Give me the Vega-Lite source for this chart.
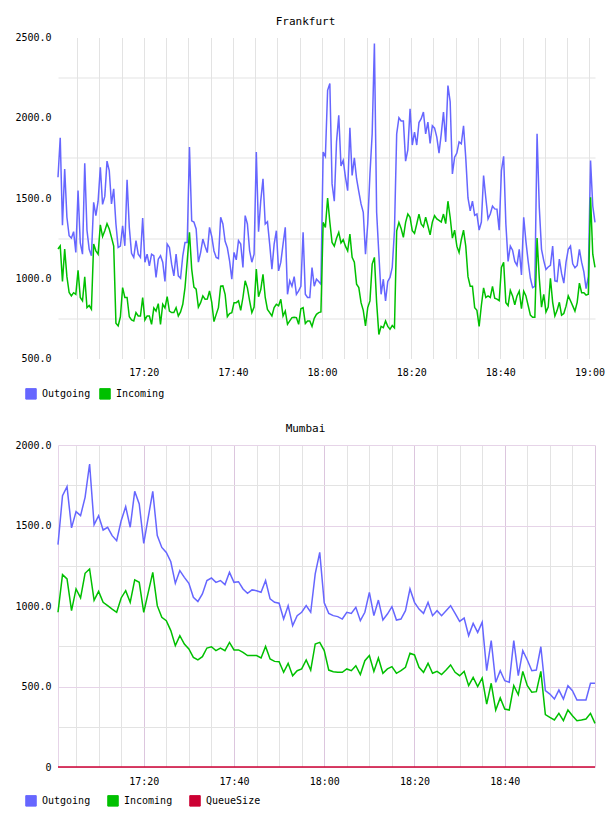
{
  "$schema": "https://vega.github.io/schema/vega-lite/v6.json",
  "background": "white",
  "padding": {"left": 14, "top": 15.5, "right": 4, "bottom": 4},
  "spacing": 21.5,
  "config": {
    "view": {"stroke": null},
    "font": "DejaVu Sans Mono",
    "title": {"font": "DejaVu Sans Mono", "fontSize": 11, "fontWeight": "normal", "color": "#000000", "anchor": "middle", "frame": "group", "dx": -21, "offset": 6},
    "axis": {"labelFont": "DejaVu Sans Mono", "labelFontSize": 10, "labelColor": "#000000", "ticks": false, "tickSize": 0, "domain": false, "labelOverlap": false, "labelFlush": false, "gridColor": "#e3e3e3", "gridWidth": 1},
    "axisX": {"labelPadding": 9},
    "axisY": {"labelPadding": 7},
    "legend": {"labelFont": "DejaVu Sans Mono", "labelFontSize": 10, "labelColor": "#000000"}
  },
  "resolve": {"scale": {"fill": "independent", "stroke": "independent"}},
  "vconcat": [
    {
      "title": {"text": "Frankfurt"},
      "width": 537,
      "height": 321,
      "data": {
        "format": {"parse": {"t": "date:'%H:%M:%S'"}},
        "values": [
          {"t":"17:00:45","Outgoing":1629,"Incoming":1182},
          {"t":"17:01:15","Outgoing":1875,"Incoming":1202},
          {"t":"17:01:45","Outgoing":1330,"Incoming":980},
          {"t":"17:02:15","Outgoing":1681,"Incoming":1182},
          {"t":"17:02:45","Outgoing":1380,"Incoming":1010},
          {"t":"17:03:15","Outgoing":1265,"Incoming":911},
          {"t":"17:03:45","Outgoing":1250,"Incoming":890},
          {"t":"17:04:15","Outgoing":1290,"Incoming":910},
          {"t":"17:04:45","Outgoing":1161,"Incoming":900},
          {"t":"17:05:15","Outgoing":1546,"Incoming":1050},
          {"t":"17:05:45","Outgoing":1220,"Incoming":880},
          {"t":"17:06:15","Outgoing":1150,"Incoming":859},
          {"t":"17:06:45","Outgoing":1717,"Incoming":1009},
          {"t":"17:07:15","Outgoing":1300,"Incoming":817},
          {"t":"17:07:45","Outgoing":1180,"Incoming":830},
          {"t":"17:08:15","Outgoing":1140,"Incoming":807},
          {"t":"17:08:45","Outgoing":1473,"Incoming":1213},
          {"t":"17:09:15","Outgoing":1390,"Incoming":1171},
          {"t":"17:09:45","Outgoing":1480,"Incoming":1150},
          {"t":"17:10:15","Outgoing":1692,"Incoming":1333},
          {"t":"17:10:45","Outgoing":1460,"Incoming":1260},
          {"t":"17:11:15","Outgoing":1510,"Incoming":1296},
          {"t":"17:11:45","Outgoing":1730,"Incoming":1340},
          {"t":"17:12:15","Outgoing":1671,"Incoming":1307},
          {"t":"17:12:45","Outgoing":1463,"Incoming":1255},
          {"t":"17:13:15","Outgoing":1557,"Incoming":1200},
          {"t":"17:13:45","Outgoing":1338,"Incoming":720},
          {"t":"17:14:15","Outgoing":1192,"Incoming":703},
          {"t":"17:14:45","Outgoing":1200,"Incoming":760},
          {"t":"17:15:15","Outgoing":1327,"Incoming":942},
          {"t":"17:15:45","Outgoing":1202,"Incoming":880},
          {"t":"17:16:15","Outgoing":1613,"Incoming":880},
          {"t":"17:16:45","Outgoing":1317,"Incoming":760},
          {"t":"17:17:15","Outgoing":1155,"Incoming":740},
          {"t":"17:17:45","Outgoing":1130,"Incoming":734},
          {"t":"17:18:15","Outgoing":1234,"Incoming":786},
          {"t":"17:18:45","Outgoing":1150,"Incoming":765},
          {"t":"17:19:15","Outgoing":1130,"Incoming":765},
          {"t":"17:19:45","Outgoing":1375,"Incoming":880},
          {"t":"17:20:15","Outgoing":1100,"Incoming":740},
          {"t":"17:20:45","Outgoing":1150,"Incoming":765},
          {"t":"17:21:15","Outgoing":1077,"Incoming":765},
          {"t":"17:21:45","Outgoing":1150,"Incoming":713},
          {"t":"17:22:15","Outgoing":1140,"Incoming":815},
          {"t":"17:22:45","Outgoing":1005,"Incoming":796},
          {"t":"17:23:15","Outgoing":1119,"Incoming":842},
          {"t":"17:23:45","Outgoing":1140,"Incoming":713},
          {"t":"17:24:15","Outgoing":1100,"Incoming":838},
          {"t":"17:24:45","Outgoing":980,"Incoming":815},
          {"t":"17:25:15","Outgoing":1213,"Incoming":886},
          {"t":"17:25:45","Outgoing":1192,"Incoming":796},
          {"t":"17:26:15","Outgoing":1088,"Incoming":786},
          {"t":"17:26:45","Outgoing":1015,"Incoming":786},
          {"t":"17:27:15","Outgoing":1150,"Incoming":817},
          {"t":"17:27:45","Outgoing":1015,"Incoming":765},
          {"t":"17:28:15","Outgoing":1000,"Incoming":790},
          {"t":"17:28:45","Outgoing":1140,"Incoming":838},
          {"t":"17:29:15","Outgoing":1223,"Incoming":942},
          {"t":"17:29:45","Outgoing":1223,"Incoming":1109},
          {"t":"17:30:15","Outgoing":1817,"Incoming":1286},
          {"t":"17:30:45","Outgoing":1358,"Incoming":1057},
          {"t":"17:31:15","Outgoing":1350,"Incoming":945},
          {"t":"17:31:45","Outgoing":1307,"Incoming":932},
          {"t":"17:32:15","Outgoing":1100,"Incoming":820},
          {"t":"17:32:45","Outgoing":1160,"Incoming":848},
          {"t":"17:33:15","Outgoing":1244,"Incoming":890},
          {"t":"17:33:45","Outgoing":1200,"Incoming":869},
          {"t":"17:34:15","Outgoing":1160,"Incoming":870},
          {"t":"17:34:45","Outgoing":1317,"Incoming":921},
          {"t":"17:35:15","Outgoing":1260,"Incoming":850},
          {"t":"17:35:45","Outgoing":1170,"Incoming":730},
          {"t":"17:36:15","Outgoing":1130,"Incoming":775},
          {"t":"17:36:45","Outgoing":1123,"Incoming":817},
          {"t":"17:37:15","Outgoing":1380,"Incoming":950},
          {"t":"17:37:45","Outgoing":1338,"Incoming":952},
          {"t":"17:38:15","Outgoing":1230,"Incoming":900},
          {"t":"17:38:45","Outgoing":1190,"Incoming":760},
          {"t":"17:39:15","Outgoing":1109,"Incoming":780},
          {"t":"17:39:45","Outgoing":994,"Incoming":786},
          {"t":"17:40:15","Outgoing":1161,"Incoming":848},
          {"t":"17:40:45","Outgoing":1115,"Incoming":848},
          {"t":"17:41:15","Outgoing":1234,"Incoming":859},
          {"t":"17:41:45","Outgoing":1213,"Incoming":800},
          {"t":"17:42:15","Outgoing":1067,"Incoming":880},
          {"t":"17:42:45","Outgoing":1390,"Incoming":984},
          {"t":"17:43:15","Outgoing":1338,"Incoming":940},
          {"t":"17:43:45","Outgoing":1171,"Incoming":859},
          {"t":"17:44:15","Outgoing":1100,"Incoming":786},
          {"t":"17:44:45","Outgoing":1150,"Incoming":820},
          {"t":"17:45:15","Outgoing":1786,"Incoming":1057},
          {"t":"17:45:45","Outgoing":1290,"Incoming":885},
          {"t":"17:46:15","Outgoing":1484,"Incoming":930},
          {"t":"17:46:45","Outgoing":1619,"Incoming":1025},
          {"t":"17:47:15","Outgoing":1338,"Incoming":880},
          {"t":"17:47:45","Outgoing":1352,"Incoming":806},
          {"t":"17:48:15","Outgoing":1213,"Incoming":786},
          {"t":"17:48:45","Outgoing":1057,"Incoming":765},
          {"t":"17:49:15","Outgoing":1213,"Incoming":817},
          {"t":"17:49:45","Outgoing":1296,"Incoming":838},
          {"t":"17:50:15","Outgoing":1046,"Incoming":828},
          {"t":"17:50:45","Outgoing":1100,"Incoming":869},
          {"t":"17:51:15","Outgoing":1213,"Incoming":765},
          {"t":"17:51:45","Outgoing":1317,"Incoming":796},
          {"t":"17:52:15","Outgoing":900,"Incoming":713},
          {"t":"17:52:45","Outgoing":984,"Incoming":734},
          {"t":"17:53:15","Outgoing":950,"Incoming":755},
          {"t":"17:53:45","Outgoing":1010,"Incoming":757},
          {"t":"17:54:15","Outgoing":900,"Incoming":755},
          {"t":"17:54:45","Outgoing":921,"Incoming":713},
          {"t":"17:55:15","Outgoing":950,"Incoming":810},
          {"t":"17:55:45","Outgoing":1286,"Incoming":817},
          {"t":"17:56:15","Outgoing":900,"Incoming":718},
          {"t":"17:56:45","Outgoing":880,"Incoming":734},
          {"t":"17:57:15","Outgoing":880,"Incoming":734},
          {"t":"17:57:45","Outgoing":1067,"Incoming":700},
          {"t":"17:58:15","Outgoing":950,"Incoming":750},
          {"t":"17:58:45","Outgoing":994,"Incoming":775},
          {"t":"17:59:15","Outgoing":980,"Incoming":786},
          {"t":"17:59:45","Outgoing":963,"Incoming":790},
          {"t":"18:00:15","Outgoing":1786,"Incoming":1348},
          {"t":"18:00:45","Outgoing":1759,"Incoming":1317},
          {"t":"18:01:15","Outgoing":2171,"Incoming":1500},
          {"t":"18:01:45","Outgoing":2213,"Incoming":1350},
          {"t":"18:02:15","Outgoing":1588,"Incoming":1223},
          {"t":"18:02:45","Outgoing":1480,"Incoming":1200},
          {"t":"18:03:15","Outgoing":1850,"Incoming":1250},
          {"t":"18:03:45","Outgoing":2015,"Incoming":1286},
          {"t":"18:04:15","Outgoing":1700,"Incoming":1220},
          {"t":"18:04:45","Outgoing":1734,"Incoming":1240},
          {"t":"18:05:15","Outgoing":1630,"Incoming":1200},
          {"t":"18:05:45","Outgoing":1546,"Incoming":1171},
          {"t":"18:06:15","Outgoing":1938,"Incoming":1275},
          {"t":"18:06:45","Outgoing":1640,"Incoming":1130},
          {"t":"18:07:15","Outgoing":1750,"Incoming":1100},
          {"t":"18:07:45","Outgoing":1620,"Incoming":963},
          {"t":"18:08:15","Outgoing":1540,"Incoming":942},
          {"t":"18:08:45","Outgoing":1463,"Incoming":848},
          {"t":"18:09:15","Outgoing":1411,"Incoming":800},
          {"t":"18:09:45","Outgoing":1150,"Incoming":703},
          {"t":"18:10:15","Outgoing":1338,"Incoming":817},
          {"t":"18:10:45","Outgoing":1650,"Incoming":859},
          {"t":"18:11:15","Outgoing":1900,"Incoming":1088},
          {"t":"18:11:45","Outgoing":2463,"Incoming":1130},
          {"t":"18:12:15","Outgoing":1411,"Incoming":848},
          {"t":"18:12:45","Outgoing":1150,"Incoming":650},
          {"t":"18:13:15","Outgoing":900,"Incoming":700},
          {"t":"18:13:45","Outgoing":994,"Incoming":692},
          {"t":"18:14:15","Outgoing":859,"Incoming":734},
          {"t":"18:14:45","Outgoing":980,"Incoming":700},
          {"t":"18:15:15","Outgoing":1005,"Incoming":682},
          {"t":"18:15:45","Outgoing":1067,"Incoming":705},
          {"t":"18:16:15","Outgoing":1296,"Incoming":690},
          {"t":"18:16:45","Outgoing":1900,"Incoming":1296},
          {"t":"18:17:15","Outgoing":2000,"Incoming":1348},
          {"t":"18:17:45","Outgoing":1980,"Incoming":1310},
          {"t":"18:18:15","Outgoing":1980,"Incoming":1255},
          {"t":"18:18:45","Outgoing":1730,"Incoming":1348},
          {"t":"18:19:15","Outgoing":1800,"Incoming":1400},
          {"t":"18:19:45","Outgoing":2056,"Incoming":1380},
          {"t":"18:20:15","Outgoing":1830,"Incoming":1296},
          {"t":"18:20:45","Outgoing":1911,"Incoming":1280},
          {"t":"18:21:15","Outgoing":1830,"Incoming":1338},
          {"t":"18:21:45","Outgoing":1970,"Incoming":1400},
          {"t":"18:22:15","Outgoing":1994,"Incoming":1338},
          {"t":"18:22:45","Outgoing":2036,"Incoming":1320},
          {"t":"18:23:15","Outgoing":1900,"Incoming":1380},
          {"t":"18:23:45","Outgoing":1973,"Incoming":1327},
          {"t":"18:24:15","Outgoing":1840,"Incoming":1270},
          {"t":"18:24:45","Outgoing":1950,"Incoming":1350},
          {"t":"18:25:15","Outgoing":1935,"Incoming":1390},
          {"t":"18:25:45","Outgoing":1879,"Incoming":1370},
          {"t":"18:26:15","Outgoing":1780,"Incoming":1360},
          {"t":"18:26:45","Outgoing":1900,"Incoming":1350},
          {"t":"18:27:15","Outgoing":2036,"Incoming":1400},
          {"t":"18:27:45","Outgoing":1850,"Incoming":1340},
          {"t":"18:28:15","Outgoing":2200,"Incoming":1480},
          {"t":"18:28:45","Outgoing":2100,"Incoming":1380},
          {"t":"18:29:15","Outgoing":1650,"Incoming":1250},
          {"t":"18:29:45","Outgoing":1754,"Incoming":1300},
          {"t":"18:30:15","Outgoing":1780,"Incoming":1200},
          {"t":"18:30:45","Outgoing":1850,"Incoming":1160},
          {"t":"18:31:15","Outgoing":1838,"Incoming":1240},
          {"t":"18:31:45","Outgoing":1950,"Incoming":1300},
          {"t":"18:32:15","Outgoing":1750,"Incoming":1200},
          {"t":"18:32:45","Outgoing":1500,"Incoming":1010},
          {"t":"18:33:15","Outgoing":1420,"Incoming":950},
          {"t":"18:33:45","Outgoing":1480,"Incoming":950},
          {"t":"18:34:15","Outgoing":1392,"Incoming":817},
          {"t":"18:34:45","Outgoing":1400,"Incoming":800},
          {"t":"18:35:15","Outgoing":1300,"Incoming":700},
          {"t":"18:35:45","Outgoing":1350,"Incoming":830},
          {"t":"18:36:15","Outgoing":1640,"Incoming":940},
          {"t":"18:36:45","Outgoing":1500,"Incoming":880},
          {"t":"18:37:15","Outgoing":1370,"Incoming":890},
          {"t":"18:37:45","Outgoing":1400,"Incoming":880},
          {"t":"18:38:15","Outgoing":1450,"Incoming":950},
          {"t":"18:38:45","Outgoing":1432,"Incoming":875},
          {"t":"18:39:15","Outgoing":1430,"Incoming":870},
          {"t":"18:39:45","Outgoing":1300,"Incoming":860},
          {"t":"18:40:15","Outgoing":1671,"Incoming":1067},
          {"t":"18:40:45","Outgoing":1760,"Incoming":1100},
          {"t":"18:41:15","Outgoing":1338,"Incoming":848},
          {"t":"18:41:45","Outgoing":1105,"Incoming":830},
          {"t":"18:42:15","Outgoing":1200,"Incoming":925},
          {"t":"18:42:45","Outgoing":1175,"Incoming":890},
          {"t":"18:43:15","Outgoing":1105,"Incoming":835},
          {"t":"18:43:45","Outgoing":1080,"Incoming":890},
          {"t":"18:44:15","Outgoing":1180,"Incoming":920},
          {"t":"18:44:45","Outgoing":1020,"Incoming":810},
          {"t":"18:45:15","Outgoing":1380,"Incoming":920},
          {"t":"18:45:45","Outgoing":1230,"Incoming":890},
          {"t":"18:46:15","Outgoing":1105,"Incoming":830},
          {"t":"18:46:45","Outgoing":1000,"Incoming":770},
          {"t":"18:47:15","Outgoing":942,"Incoming":757},
          {"t":"18:47:45","Outgoing":950,"Incoming":757},
          {"t":"18:48:15","Outgoing":1900,"Incoming":1250},
          {"t":"18:48:45","Outgoing":1440,"Incoming":1000},
          {"t":"18:49:15","Outgoing":1180,"Incoming":820},
          {"t":"18:49:45","Outgoing":1110,"Incoming":900},
          {"t":"18:50:15","Outgoing":1055,"Incoming":790},
          {"t":"18:50:45","Outgoing":1070,"Incoming":820},
          {"t":"18:51:15","Outgoing":1080,"Incoming":1000},
          {"t":"18:51:45","Outgoing":1200,"Incoming":850},
          {"t":"18:52:15","Outgoing":984,"Incoming":765},
          {"t":"18:52:45","Outgoing":980,"Incoming":800},
          {"t":"18:53:15","Outgoing":1120,"Incoming":850},
          {"t":"18:53:45","Outgoing":1030,"Incoming":770},
          {"t":"18:54:15","Outgoing":970,"Incoming":780},
          {"t":"18:54:45","Outgoing":1100,"Incoming":826},
          {"t":"18:55:15","Outgoing":1180,"Incoming":890},
          {"t":"18:55:45","Outgoing":1200,"Incoming":860},
          {"t":"18:56:15","Outgoing":1090,"Incoming":828},
          {"t":"18:56:45","Outgoing":1065,"Incoming":795},
          {"t":"18:57:15","Outgoing":1080,"Incoming":850},
          {"t":"18:57:45","Outgoing":1180,"Incoming":970},
          {"t":"18:58:15","Outgoing":1100,"Incoming":910},
          {"t":"18:58:45","Outgoing":1040,"Incoming":910},
          {"t":"18:59:15","Outgoing":935,"Incoming":895},
          {"t":"18:59:45","Outgoing":1010,"Incoming":900},
          {"t":"19:00:15","Outgoing":1734,"Incoming":1504},
          {"t":"19:00:45","Outgoing":1450,"Incoming":1150},
          {"t":"19:01:15","Outgoing":1348,"Incoming":1067}
        ]
      },
      "transform": [{"fold": ["Outgoing", "Incoming"], "as": ["series", "value"]}],
      "encoding": {
        "x": {
          "field": "t", "type": "temporal",
          "scale": {"nice": false},
          "axis": {
            "title": null, "grid": true,
            "values": [
              {"year": 1900, "month": 1, "date": 1, "hours": 17, "minutes": 5},
              {"year": 1900, "month": 1, "date": 1, "hours": 17, "minutes": 10},
              {"year": 1900, "month": 1, "date": 1, "hours": 17, "minutes": 15},
              {"year": 1900, "month": 1, "date": 1, "hours": 17, "minutes": 20},
              {"year": 1900, "month": 1, "date": 1, "hours": 17, "minutes": 25},
              {"year": 1900, "month": 1, "date": 1, "hours": 17, "minutes": 30},
              {"year": 1900, "month": 1, "date": 1, "hours": 17, "minutes": 35},
              {"year": 1900, "month": 1, "date": 1, "hours": 17, "minutes": 40},
              {"year": 1900, "month": 1, "date": 1, "hours": 17, "minutes": 45},
              {"year": 1900, "month": 1, "date": 1, "hours": 17, "minutes": 50},
              {"year": 1900, "month": 1, "date": 1, "hours": 17, "minutes": 55},
              {"year": 1900, "month": 1, "date": 1, "hours": 18, "minutes": 0},
              {"year": 1900, "month": 1, "date": 1, "hours": 18, "minutes": 5},
              {"year": 1900, "month": 1, "date": 1, "hours": 18, "minutes": 10},
              {"year": 1900, "month": 1, "date": 1, "hours": 18, "minutes": 15},
              {"year": 1900, "month": 1, "date": 1, "hours": 18, "minutes": 20},
              {"year": 1900, "month": 1, "date": 1, "hours": 18, "minutes": 25},
              {"year": 1900, "month": 1, "date": 1, "hours": 18, "minutes": 30},
              {"year": 1900, "month": 1, "date": 1, "hours": 18, "minutes": 35},
              {"year": 1900, "month": 1, "date": 1, "hours": 18, "minutes": 40},
              {"year": 1900, "month": 1, "date": 1, "hours": 18, "minutes": 45},
              {"year": 1900, "month": 1, "date": 1, "hours": 18, "minutes": 50},
              {"year": 1900, "month": 1, "date": 1, "hours": 18, "minutes": 55},
              {"year": 1900, "month": 1, "date": 1, "hours": 19, "minutes": 0}
            ],
            "labelExpr": "minutes(datum.value) % 20 == 0 ? timeFormat(datum.value, '%H:%M') : ''"
          }
        },
        "y": {
          "field": "value", "type": "quantitative",
          "scale": {"domain": [500, 2500], "nice": false, "zero": false},
          "axis": {
            "title": null, "grid": true,
            "values": [500, 750, 1000, 1250, 1500, 1750, 2000, 2250, 2500],
            "gridOpacity": {"condition": {"test": "datum.value % 500 == 0", "value": 0}, "value": 1},
            "labelExpr": "datum.value % 500 == 0 ? format(datum.value, '.1f') : ''"
          }
        }
      },
      "layer": [
        {
          "mark": {"type": "square", "opacity": 0},
          "encoding": {
            "fill": {
              "field": "series", "type": "nominal",
              "scale": {"domain": ["Outgoing", "Incoming"], "range": ["#6666ff", "#00c000"]},
              "legend": {
                "title": null, "orient": "none", "legendX": -33, "legendY": 350,
                "direction": "horizontal", "columns": 2, "gridAlign": "all",
                "symbolType": "square", "symbolSize": 110, "symbolOpacity": 1,
                "symbolStrokeColor": "#888888", "symbolStrokeWidth": 1,
                "labelOffset": 5, "columnPadding": 6
              }
            }
          }
        },
        {
          "mark": {"type": "line", "strokeWidth": 1.5},
          "encoding": {
            "stroke": {
              "field": "series", "type": "nominal",
              "scale": {"domain": ["Outgoing", "Incoming"], "range": ["#6666ff", "#00c000"]},
              "legend": null
            }
          }
        }
      ]
    },
    {
      "title": {"text": "Mumbai"},
      "width": 537,
      "height": 322,
      "data": {
        "format": {"parse": {"t": "date:'%H:%M'"}},
        "values": [
          {"t":"17:01","Outgoing":1381,"Incoming":961,"QueueSize":0},
          {"t":"17:02","Outgoing":1685,"Incoming":1195,"QueueSize":0},
          {"t":"17:03","Outgoing":1741,"Incoming":1168,"QueueSize":0},
          {"t":"17:04","Outgoing":1485,"Incoming":971,"QueueSize":0},
          {"t":"17:05","Outgoing":1586,"Incoming":1106,"QueueSize":0},
          {"t":"17:06","Outgoing":1561,"Incoming":1050,"QueueSize":0},
          {"t":"17:07","Outgoing":1675,"Incoming":1203,"QueueSize":0},
          {"t":"17:08","Outgoing":1882,"Incoming":1230,"QueueSize":0},
          {"t":"17:09","Outgoing":1505,"Incoming":1035,"QueueSize":0},
          {"t":"17:10","Outgoing":1561,"Incoming":1091,"QueueSize":0},
          {"t":"17:11","Outgoing":1472,"Incoming":1023,"QueueSize":0},
          {"t":"17:12","Outgoing":1489,"Incoming":1002,"QueueSize":0},
          {"t":"17:13","Outgoing":1437,"Incoming":981,"QueueSize":0},
          {"t":"17:14","Outgoing":1406,"Incoming":961,"QueueSize":0},
          {"t":"17:15","Outgoing":1530,"Incoming":1050,"QueueSize":0},
          {"t":"17:16","Outgoing":1617,"Incoming":1095,"QueueSize":0},
          {"t":"17:17","Outgoing":1489,"Incoming":1023,"QueueSize":0},
          {"t":"17:18","Outgoing":1712,"Incoming":1162,"QueueSize":0},
          {"t":"17:19","Outgoing":1634,"Incoming":1147,"QueueSize":0},
          {"t":"17:20","Outgoing":1389,"Incoming":961,"QueueSize":0},
          {"t":"17:21","Outgoing":1551,"Incoming":1085,"QueueSize":0},
          {"t":"17:22","Outgoing":1712,"Incoming":1209,"QueueSize":0},
          {"t":"17:23","Outgoing":1437,"Incoming":1002,"QueueSize":0},
          {"t":"17:24","Outgoing":1364,"Incoming":930,"QueueSize":0},
          {"t":"17:25","Outgoing":1333,"Incoming":909,"QueueSize":0},
          {"t":"17:26","Outgoing":1275,"Incoming":847,"QueueSize":0},
          {"t":"17:27","Outgoing":1141,"Incoming":754,"QueueSize":0},
          {"t":"17:28","Outgoing":1220,"Incoming":816,"QueueSize":0},
          {"t":"17:29","Outgoing":1178,"Incoming":764,"QueueSize":0},
          {"t":"17:30","Outgoing":1141,"Incoming":733,"QueueSize":0},
          {"t":"17:31","Outgoing":1054,"Incoming":681,"QueueSize":0},
          {"t":"17:32","Outgoing":1028,"Incoming":665,"QueueSize":0},
          {"t":"17:33","Outgoing":1075,"Incoming":685,"QueueSize":0},
          {"t":"17:34","Outgoing":1158,"Incoming":739,"QueueSize":0},
          {"t":"17:35","Outgoing":1174,"Incoming":747,"QueueSize":0},
          {"t":"17:36","Outgoing":1147,"Incoming":723,"QueueSize":0},
          {"t":"17:37","Outgoing":1158,"Incoming":739,"QueueSize":0},
          {"t":"17:38","Outgoing":1133,"Incoming":723,"QueueSize":0},
          {"t":"17:39","Outgoing":1209,"Incoming":774,"QueueSize":0},
          {"t":"17:40","Outgoing":1147,"Incoming":727,"QueueSize":0},
          {"t":"17:41","Outgoing":1151,"Incoming":727,"QueueSize":0},
          {"t":"17:42","Outgoing":1106,"Incoming":712,"QueueSize":0},
          {"t":"17:43","Outgoing":1079,"Incoming":692,"QueueSize":0},
          {"t":"17:44","Outgoing":1100,"Incoming":692,"QueueSize":0},
          {"t":"17:45","Outgoing":1095,"Incoming":692,"QueueSize":0},
          {"t":"17:46","Outgoing":1085,"Incoming":677,"QueueSize":0},
          {"t":"17:47","Outgoing":1158,"Incoming":749,"QueueSize":0},
          {"t":"17:48","Outgoing":1044,"Incoming":671,"QueueSize":0},
          {"t":"17:49","Outgoing":1023,"Incoming":656,"QueueSize":0},
          {"t":"17:50","Outgoing":1017,"Incoming":654,"QueueSize":0},
          {"t":"17:51","Outgoing":919,"Incoming":588,"QueueSize":0},
          {"t":"17:52","Outgoing":1002,"Incoming":644,"QueueSize":0},
          {"t":"17:53","Outgoing":878,"Incoming":567,"QueueSize":0},
          {"t":"17:54","Outgoing":940,"Incoming":598,"QueueSize":0},
          {"t":"17:55","Outgoing":961,"Incoming":609,"QueueSize":0},
          {"t":"17:56","Outgoing":1002,"Incoming":665,"QueueSize":0},
          {"t":"17:57","Outgoing":961,"Incoming":602,"QueueSize":0},
          {"t":"17:58","Outgoing":1199,"Incoming":764,"QueueSize":0},
          {"t":"17:59","Outgoing":1333,"Incoming":774,"QueueSize":0},
          {"t":"18:00","Outgoing":1020,"Incoming":723,"QueueSize":0},
          {"t":"18:01","Outgoing":954,"Incoming":602,"QueueSize":0},
          {"t":"18:02","Outgoing":940,"Incoming":592,"QueueSize":0},
          {"t":"18:03","Outgoing":934,"Incoming":588,"QueueSize":0},
          {"t":"18:04","Outgoing":919,"Incoming":588,"QueueSize":0},
          {"t":"18:05","Outgoing":961,"Incoming":609,"QueueSize":0},
          {"t":"18:06","Outgoing":954,"Incoming":598,"QueueSize":0},
          {"t":"18:07","Outgoing":992,"Incoming":629,"QueueSize":0},
          {"t":"18:08","Outgoing":909,"Incoming":574,"QueueSize":0},
          {"t":"18:09","Outgoing":961,"Incoming":660,"QueueSize":0},
          {"t":"18:10","Outgoing":1085,"Incoming":692,"QueueSize":0},
          {"t":"18:11","Outgoing":940,"Incoming":594,"QueueSize":0},
          {"t":"18:12","Outgoing":1037,"Incoming":677,"QueueSize":0},
          {"t":"18:13","Outgoing":913,"Incoming":582,"QueueSize":0},
          {"t":"18:14","Outgoing":950,"Incoming":609,"QueueSize":0},
          {"t":"18:15","Outgoing":996,"Incoming":623,"QueueSize":0},
          {"t":"18:16","Outgoing":913,"Incoming":582,"QueueSize":0},
          {"t":"18:17","Outgoing":919,"Incoming":598,"QueueSize":0},
          {"t":"18:18","Outgoing":971,"Incoming":619,"QueueSize":0},
          {"t":"18:19","Outgoing":1106,"Incoming":706,"QueueSize":0},
          {"t":"18:20","Outgoing":1023,"Incoming":696,"QueueSize":0},
          {"t":"18:21","Outgoing":981,"Incoming":619,"QueueSize":0},
          {"t":"18:22","Outgoing":954,"Incoming":588,"QueueSize":0},
          {"t":"18:23","Outgoing":1023,"Incoming":644,"QueueSize":0},
          {"t":"18:24","Outgoing":940,"Incoming":582,"QueueSize":0},
          {"t":"18:25","Outgoing":971,"Incoming":594,"QueueSize":0},
          {"t":"18:26","Outgoing":940,"Incoming":574,"QueueSize":0},
          {"t":"18:27","Outgoing":971,"Incoming":602,"QueueSize":0},
          {"t":"18:28","Outgoing":1002,"Incoming":634,"QueueSize":0},
          {"t":"18:29","Outgoing":954,"Incoming":588,"QueueSize":0},
          {"t":"18:30","Outgoing":905,"Incoming":567,"QueueSize":0},
          {"t":"18:31","Outgoing":925,"Incoming":594,"QueueSize":0},
          {"t":"18:32","Outgoing":816,"Incoming":505,"QueueSize":0},
          {"t":"18:33","Outgoing":892,"Incoming":557,"QueueSize":0},
          {"t":"18:34","Outgoing":836,"Incoming":499,"QueueSize":0},
          {"t":"18:35","Outgoing":899,"Incoming":553,"QueueSize":0},
          {"t":"18:36","Outgoing":598,"Incoming":391,"QueueSize":0},
          {"t":"18:37","Outgoing":785,"Incoming":520,"QueueSize":0},
          {"t":"18:38","Outgoing":526,"Incoming":354,"QueueSize":0},
          {"t":"18:39","Outgoing":598,"Incoming":429,"QueueSize":0},
          {"t":"18:40","Outgoing":536,"Incoming":360,"QueueSize":0},
          {"t":"18:41","Outgoing":526,"Incoming":354,"QueueSize":0},
          {"t":"18:42","Outgoing":785,"Incoming":505,"QueueSize":0},
          {"t":"18:43","Outgoing":567,"Incoming":449,"QueueSize":0},
          {"t":"18:44","Outgoing":723,"Incoming":594,"QueueSize":0},
          {"t":"18:45","Outgoing":665,"Incoming":505,"QueueSize":0},
          {"t":"18:46","Outgoing":598,"Incoming":464,"QueueSize":0},
          {"t":"18:47","Outgoing":602,"Incoming":468,"QueueSize":0},
          {"t":"18:48","Outgoing":747,"Incoming":594,"QueueSize":0},
          {"t":"18:49","Outgoing":474,"Incoming":325,"QueueSize":0},
          {"t":"18:50","Outgoing":453,"Incoming":308,"QueueSize":0},
          {"t":"18:51","Outgoing":422,"Incoming":292,"QueueSize":0},
          {"t":"18:52","Outgoing":478,"Incoming":333,"QueueSize":0},
          {"t":"18:53","Outgoing":422,"Incoming":288,"QueueSize":0},
          {"t":"18:54","Outgoing":505,"Incoming":354,"QueueSize":0},
          {"t":"18:55","Outgoing":474,"Incoming":319,"QueueSize":0},
          {"t":"18:56","Outgoing":416,"Incoming":288,"QueueSize":0},
          {"t":"18:57","Outgoing":416,"Incoming":292,"QueueSize":0},
          {"t":"18:58","Outgoing":416,"Incoming":298,"QueueSize":0},
          {"t":"18:59","Outgoing":520,"Incoming":333,"QueueSize":0},
          {"t":"19:00","Outgoing":520,"Incoming":271,"QueueSize":0}
        ]
      },
      "transform": [{"fold": ["Outgoing", "Incoming", "QueueSize"], "as": ["series", "value"]}],
      "encoding": {
        "x": {
          "field": "t", "type": "temporal",
          "scale": {"nice": false},
          "axis": {
            "title": null, "grid": true,
            "values": [
              {"year": 1900, "month": 1, "date": 1, "hours": 17, "minutes": 1},
              {"year": 1900, "month": 1, "date": 1, "hours": 17, "minutes": 5},
              {"year": 1900, "month": 1, "date": 1, "hours": 17, "minutes": 10},
              {"year": 1900, "month": 1, "date": 1, "hours": 17, "minutes": 15},
              {"year": 1900, "month": 1, "date": 1, "hours": 17, "minutes": 20},
              {"year": 1900, "month": 1, "date": 1, "hours": 17, "minutes": 25},
              {"year": 1900, "month": 1, "date": 1, "hours": 17, "minutes": 30},
              {"year": 1900, "month": 1, "date": 1, "hours": 17, "minutes": 35},
              {"year": 1900, "month": 1, "date": 1, "hours": 17, "minutes": 40},
              {"year": 1900, "month": 1, "date": 1, "hours": 17, "minutes": 45},
              {"year": 1900, "month": 1, "date": 1, "hours": 17, "minutes": 50},
              {"year": 1900, "month": 1, "date": 1, "hours": 17, "minutes": 55},
              {"year": 1900, "month": 1, "date": 1, "hours": 18, "minutes": 0},
              {"year": 1900, "month": 1, "date": 1, "hours": 18, "minutes": 5},
              {"year": 1900, "month": 1, "date": 1, "hours": 18, "minutes": 10},
              {"year": 1900, "month": 1, "date": 1, "hours": 18, "minutes": 15},
              {"year": 1900, "month": 1, "date": 1, "hours": 18, "minutes": 20},
              {"year": 1900, "month": 1, "date": 1, "hours": 18, "minutes": 25},
              {"year": 1900, "month": 1, "date": 1, "hours": 18, "minutes": 30},
              {"year": 1900, "month": 1, "date": 1, "hours": 18, "minutes": 35},
              {"year": 1900, "month": 1, "date": 1, "hours": 18, "minutes": 40},
              {"year": 1900, "month": 1, "date": 1, "hours": 18, "minutes": 45},
              {"year": 1900, "month": 1, "date": 1, "hours": 18, "minutes": 50},
              {"year": 1900, "month": 1, "date": 1, "hours": 18, "minutes": 55},
              {"year": 1900, "month": 1, "date": 1, "hours": 19, "minutes": 0}
            ],
            "gridColor": {
              "condition": [
                {"test": "minutes(datum.value) % 5 != 0", "value": "#e6d4e8"},
                {"test": "minutes(datum.value) % 20 == 0", "value": "#dcc6de"}
              ],
              "value": "#e3e3e3"
            },
            "labelExpr": "minutes(datum.value) % 20 == 0 && hours(datum.value) < 19 ? timeFormat(datum.value, '%H:%M') : ''"
          }
        },
        "y": {
          "field": "value", "type": "quantitative",
          "scale": {"domain": [0, 2000], "nice": false},
          "axis": {
            "title": null, "grid": true,
            "values": [0, 250, 500, 750, 1000, 1250, 1500, 1750, 2000],
            "gridColor": {"condition": {"test": "datum.value % 500 == 0", "value": "#e6d4e8"}, "value": "#e3e3e3"},
            "labelExpr": "datum.value % 500 == 0 ? (datum.value == 0 ? '0' : format(datum.value, '.1f')) : ''"
          }
        }
      },
      "layer": [
        {
          "mark": {"type": "square", "opacity": 0},
          "encoding": {
            "fill": {
              "field": "series", "type": "nominal",
              "scale": {"domain": ["Outgoing", "Incoming", "QueueSize"], "range": ["#6666ff", "#00c000", "#cc0033"]},
              "legend": {
                "title": null, "orient": "none", "legendX": -33, "legendY": 349.5,
                "direction": "horizontal", "columns": 3, "gridAlign": "all",
                "symbolType": "square", "symbolSize": 110, "symbolOpacity": 1,
                "symbolStrokeColor": "#888888", "symbolStrokeWidth": 1,
                "labelOffset": 5, "columnPadding": 8
              }
            }
          }
        },
        {
          "mark": {"type": "line", "strokeWidth": 1.5},
          "encoding": {
            "stroke": {
              "field": "series", "type": "nominal",
              "scale": {"domain": ["Outgoing", "Incoming", "QueueSize"], "range": ["#6666ff", "#00c000", "#cc0033"]},
              "legend": null
            }
          }
        }
      ]
    }
  ]
}
